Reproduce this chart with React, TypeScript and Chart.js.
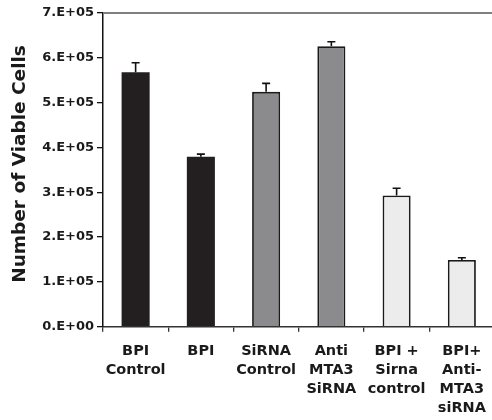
import React, { useEffect, useRef } from "react";
import { Chart, registerables } from "chart.js";

Chart.register(...registerables);

const categories: string[][] = [
  ["BPI", "Control"],
  ["BPI"],
  ["SiRNA", "Control"],
  ["Anti", "MTA3", "SiRNA"],
  ["BPI +", "Sirna", "control"],
  ["BPI+", "Anti-", "MTA3", "siRNA"],
];
const values: number[] = [568000, 379000, 524000, 626000, 293000, 149000];
const errors: number[] = [21000, 6000, 19000, 10000, 16000, 5000];
const barColors: string[] = ["#231f20", "#231f20", "#8b8b8d", "#8b8b8d", "#ececec", "#ececec"];
const yTickLabels: string[] = ["0.E+00", "1.E+05", "2.E+05", "3.E+05", "4.E+05", "5.E+05", "6.E+05", "7.E+05"];
const yTitle = "Number of Viable Cells";

const FONT = "'DejaVu Sans', Arial, sans-serif";

const errorBarPlugin = {
  id: "errorBars",
  afterDatasetsDraw(chart: any) {
    const ctx = chart.ctx;
    const meta = chart.getDatasetMeta(0);
    const yScale = chart.scales.y;
    ctx.save();
    ctx.strokeStyle = "#111";
    ctx.lineWidth = 1.6;
    meta.data.forEach((bar: any, i: number) => {
      const x = bar.x;
      const yTop = yScale.getPixelForValue(values[i]);
      const yErr = yScale.getPixelForValue(values[i] + errors[i]);
      ctx.beginPath();
      ctx.moveTo(x, yTop);
      ctx.lineTo(x, yErr);
      ctx.moveTo(x - 4, yErr);
      ctx.lineTo(x + 4, yErr);
      ctx.stroke();
    });
    ctx.restore();
  },
};

const decorPlugin = {
  id: "decor",
  afterDraw(chart: any) {
    const { ctx, chartArea } = chart;
    ctx.save();
    ctx.strokeStyle = "#808080";
    ctx.lineWidth = 2;
    ctx.beginPath();
    ctx.moveTo(chartArea.left, chartArea.top);
    ctx.lineTo(chartArea.right + 5, chartArea.top);
    ctx.stroke();
    // y-axis title
    ctx.translate(20, 164);
    ctx.rotate(-Math.PI / 2);
    ctx.fillStyle = "#1a1a1a";
    ctx.font = `bold 18.5px ${FONT}`;
    ctx.textAlign = "center";
    ctx.textBaseline = "middle";
    ctx.fillText(yTitle, 0, 0);
    ctx.restore();
  },
};

export default function App() {
  const ref = useRef<HTMLCanvasElement | null>(null);
  useEffect(() => {
    if (!ref.current) return;
    const chart = new Chart(ref.current, {
      type: "bar",
      data: {
        labels: categories,
        datasets: [
          {
            data: values,
            backgroundColor: barColors,
            borderColor: "#1a1a1a",
            borderWidth: [0, 0, 1.8, 1.8, 1.8, 1.8],
            categoryPercentage: 1,
            barPercentage: 0.43,
          },
        ],
      },
      options: {
        responsive: false,
        animation: false,
        layout: { padding: { top: 13, left: 0, right: 1, bottom: 0 } },
        plugins: {
          legend: { display: false },
          tooltip: { enabled: false },
        },
        scales: {
          x: {
            grid: { drawOnChartArea: false, drawTicks: true, tickLength: 5, color: "#333", lineWidth: 1.3 },
            border: { color: "#333", width: 1.5 },
            ticks: {
              color: "#1a1a1a",
              padding: 10,
              maxRotation: 0,
              minRotation: 0,
              autoSkip: false,
              font: { family: FONT, size: 14.5, weight: "bold", lineHeight: 1.31 },
            },
            afterFit(s: any) {
              s.height = 420 - 326.7;
            },
          },
          y: {
            min: 0,
            max: 700000,
            grid: { drawOnChartArea: false, drawTicks: true, tickLength: 6, color: "#111", lineWidth: 1.3 },
            border: { color: "#111", width: 1.5 },
            ticks: {
              stepSize: 100000,
              color: "#1a1a1a",
              padding: 3,
              font: { family: FONT, size: 13, weight: "bold" },
              callback: (_v: any, i: number) => yTickLabels[i],
            },
            afterFit(s: any) {
              s.width = 103;
            },
          },
        },
      },
      plugins: [errorBarPlugin, decorPlugin],
    });
    return () => chart.destroy();
  }, []);
  return (
    <div style={{ position: "fixed", left: 0, top: 0, width: 492, height: 420, overflow: "hidden", background: "#fff" }}>
      <canvas ref={ref} width={496} height={420} style={{ display: "block" }} />
    </div>
  );
}
